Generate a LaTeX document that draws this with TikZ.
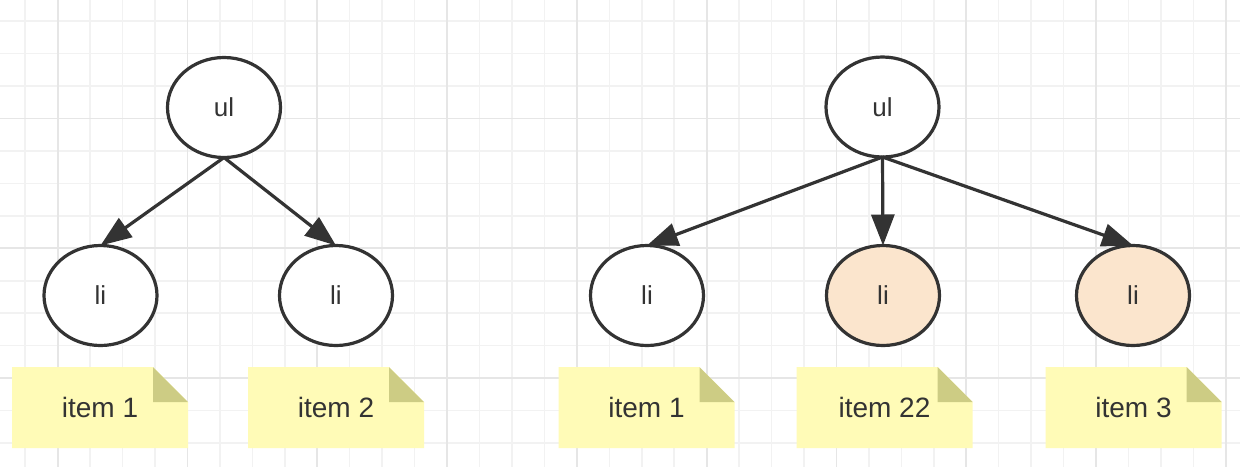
\documentclass[tikz,border=0pt]{standalone}
\usepackage{fontspec}
\setmainfont{Liberation Sans}
\usetikzlibrary{shapes.geometric,arrows.meta}
\definecolor{gridminor}{RGB}{242,242,242}
\definecolor{gridmajor}{RGB}{230,230,230}
\definecolor{ink}{RGB}{51,51,51}
\definecolor{notey}{RGB}{255,251,183}
\definecolor{foldc}{RGB}{205,204,132}
\definecolor{peach}{RGB}{251,229,205}
\tikzset{
  circnode/.style={ellipse, draw=ink, line width=3.2pt, fill=white, minimum width=113pt, minimum height=100pt, inner sep=0pt, outer sep=0pt, text=ink, font=\fontsize{26}{30}\selectfont},
  hl/.style={fill=peach},
  notebox/.style={rectangle, inner sep=0pt, outer sep=0pt, minimum width=176pt, minimum height=81pt, text=ink, font=\fontsize{28}{32}\selectfont,
    path picture={
      \fill[notey] (path picture bounding box.south west) -- (path picture bounding box.north west) -- ([xshift=-35pt]path picture bounding box.north east) -- ([yshift=-35pt]path picture bounding box.north east) -- (path picture bounding box.south east) -- cycle;
      \fill[foldc] ([xshift=-35pt]path picture bounding box.north east) -- ([xshift=-35pt,yshift=-35pt]path picture bounding box.north east) -- ([yshift=-35pt]path picture bounding box.north east) -- cycle;
    }},
  link/.style={draw=ink, line width=3.2pt, -{Triangle[length=31pt,width=23pt]}}
}
\begin{document}
\begin{tikzpicture}[x=1pt,y=-1pt]
\useasboundingbox (0,0) rectangle (1240,467);
\fill[white] (0,0) rectangle (1240,467);
% grid
\foreach \i in {0,...,37} {
  \draw[gridminor, line width=1.5pt] ({25.2+32.45*\i},0) -- ({25.2+32.45*\i},467);
}
\foreach \j in {0,...,13} {
  \draw[gridminor, line width=1.5pt] (0,{21.15+32.45*\j}) -- (1240,{21.15+32.45*\j});
}
\foreach \i in {1,5,...,37} {
  \draw[gridmajor, line width=1.8pt] ({25.2+32.45*\i},0) -- ({25.2+32.45*\i},467);
}
\foreach \j in {3,7,11} {
  \draw[gridmajor, line width=1.8pt] (0,{21.15+32.45*\j}) -- (1240,{21.15+32.45*\j});
}
% left tree
\node[circnode] (ulA) at (224,107.5) {ul};
\node[circnode] (liA1) at (100.5,295.5) {li};
\node[circnode] (liA2) at (336,295.5) {li};
\node[notebox] (nA1) at (100,407.5) {item 1};
\node[notebox] (nA2) at (336,407.5) {item 2};
\draw[link] (ulA.south) -- (liA1.north);
\draw[link] (ulA.south) -- (liA2.north);
% right tree
\node[circnode] (ulB) at (882.5,107) {ul};
\node[circnode] (liB1) at (647,295.5) {li};
\node[circnode,hl] (liB2) at (883,295.5) {li};
\node[circnode,hl] (liB3) at (1133,295.5) {li};
\node[notebox] (nB1) at (646.5,407.5) {item 1};
\node[notebox] (nB2) at (884.5,407.5) {item 22};
\node[notebox] (nB3) at (1133.5,407.5) {item 3};
\draw[link] (ulB.south) -- (liB1.north);
\draw[link] (ulB.south) -- (liB2.north);
\draw[link] (ulB.south) -- (liB3.north);
\end{tikzpicture}
\end{document}
